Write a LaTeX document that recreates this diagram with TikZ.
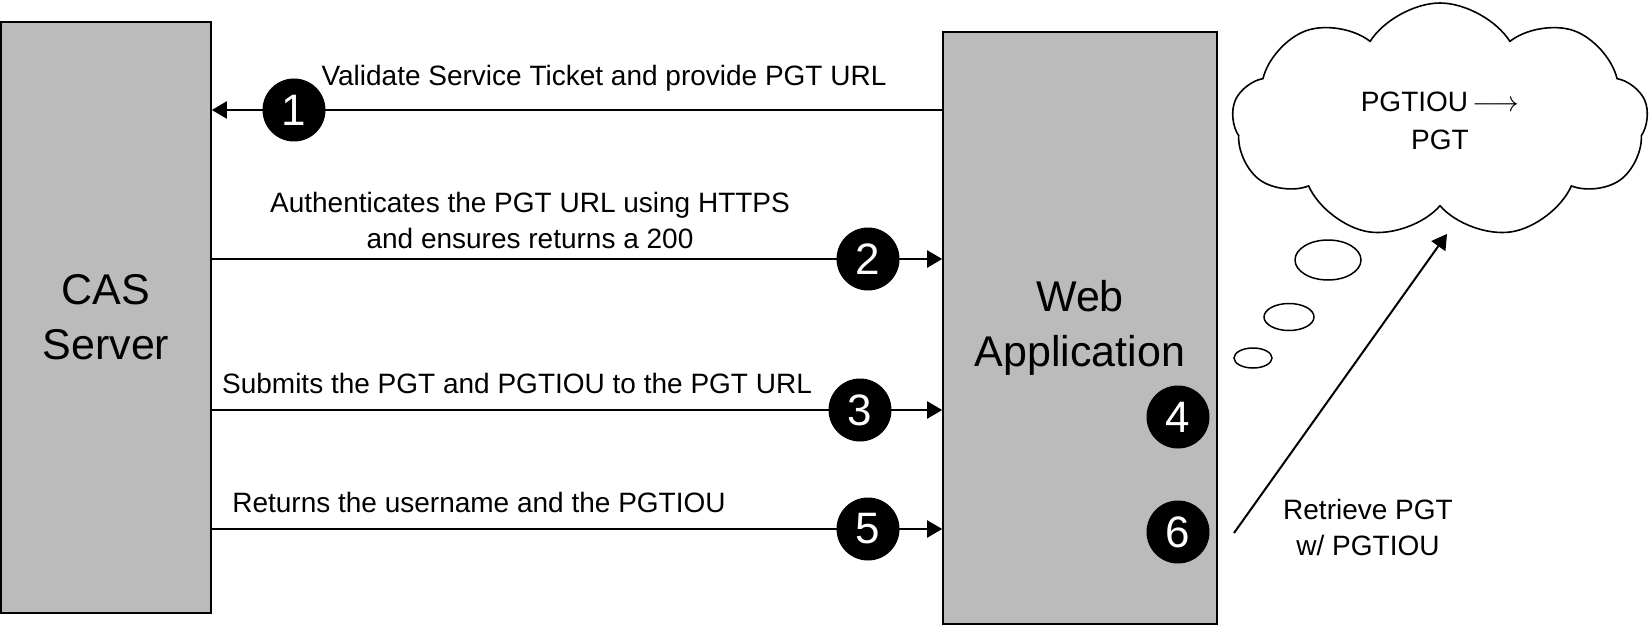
\documentclass[tikz,border=0pt]{standalone}
\usepackage{fontspec}
\setmainfont{Liberation Sans}
\usetikzlibrary{arrows.meta, positioning, shapes.geometric, shapes.symbols, backgrounds}
\definecolor{boxgray}{RGB}{187,187,187}

\begin{document}
\begin{tikzpicture}[x=0.5pt, y=-0.5pt,
    box/.style={draw, line width=0.8pt, fill=boxgray, align=center, inner sep=0pt, font=\fontsize{21.5}{27.5}\selectfont},
    num/.style={circle, fill=black, text=white, minimum size=31.5pt, inner sep=0pt, font=\fontsize{22}{22}\selectfont},
    lbl/.style={align=center, inner sep=0pt, font=\fontsize{14}{18}\selectfont},
    flow/.style={-{Triangle[length=7.5pt, width=8.5pt]}, line width=1pt},
    bubble/.style={draw, ellipse, line width=0.75pt, inner sep=0pt}]
    \useasboundingbox (0,0) rectangle (1650,626);

    % CAS server and web application
    \node[box, minimum width=105pt, minimum height=295.5pt] (cas) at (106,317.5) {CAS\\Server};
    \node[box, minimum width=137pt, minimum height=296pt] (web) at (1080,328) {Web\\Application};

    % step markers
    \node[num] (n1) at (294,110) {1};
    \node[num] (n2) at (868,259) {2};
    \node[num] (n3) at (860,410) {3};
    \node[num] (n4) at (1178,417) {4};
    \node[num] (n5) at (868,529) {5};
    \node[num] (n6) at (1178,532) {6};

    % messages between the two
    \begin{scope}[on background layer]
        \draw[flow] (web.west |- n1) -- (cas.east |- n1);
        \draw[flow] (cas.east |- n2) -- (web.west |- n2);
        \draw[flow] (cas.east |- n3) -- (web.west |- n3);
        \draw[flow] (cas.east |- n5) -- (web.west |- n5);
    \end{scope}
    \node[lbl] (l1) at (604,78) {Validate Service Ticket and provide PGT URL};
    \node[lbl] (l2) at (530,220) {Authenticates the PGT URL using HTTPS\\and ensures returns a 200};
    \node[lbl] (l3) at (517,383) {Submits the PGT and PGTIOU to the PGT URL};
    \node[lbl] (l5) at (479,502) {Returns the username and the PGTIOU};

    % thought cloud
    \node[cloud, draw, line width=0.8pt, cloud puffs=9, cloud puff arc=115, cloud ignores aspect,
          minimum width=208pt, minimum height=118pt, align=center,
          font=\fontsize{14}{19}\selectfont] (cloud) at (1440,121) {PGTIOU\,$\longrightarrow$\\PGT};
    \node[bubble, minimum width=33pt, minimum height=20pt] (b1) at (1328,260) {};
    \node[bubble, minimum width=25pt, minimum height=13.5pt] (b2) at (1289,317) {};
    \node[bubble, minimum width=19pt, minimum height=10pt] (b3) at (1253,358) {};

    % retrieve
    \coordinate (rfoot) at (1234,533);
    \draw[flow] (rfoot) -- ([xshift=3.5pt, yshift=-13.5pt]cloud.south);
    \node[lbl] (ret) at (1368,527) {Retrieve PGT\\w/ PGTIOU};
\end{tikzpicture}
\end{document}
